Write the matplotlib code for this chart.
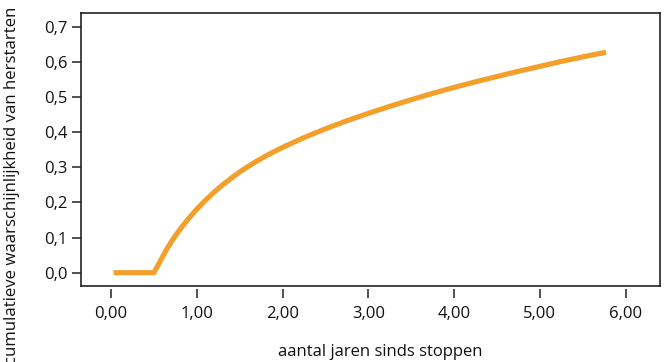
import matplotlib
matplotlib.use("Agg")
import matplotlib.pyplot as plt
from matplotlib.ticker import FuncFormatter

plt.rcParams['font.family'] = ['Open Sans', 'DejaVu Sans']

jaren = [0.03, 0.50, 0.55, 0.60, 0.65, 0.70, 0.75, 0.80, 0.90, 1.00, 1.10, 1.20, 1.30,
         1.40, 1.50, 1.60, 1.70, 1.80, 1.90, 2.00, 2.25, 2.50, 2.75, 3.00, 3.25, 3.50,
         3.75, 4.00, 4.25, 4.50, 4.75, 5.00, 5.25, 5.50, 5.77]
kans = [0.0, 0.0, 0.022, 0.045, 0.067, 0.087, 0.105, 0.122, 0.153, 0.181, 0.206, 0.229, 0.250,
        0.269, 0.287, 0.303, 0.318, 0.332, 0.345, 0.357, 0.385, 0.410, 0.433, 0.454, 0.474, 0.493,
        0.511, 0.528, 0.544, 0.559, 0.574, 0.588, 0.602, 0.615, 0.628]
xticks = [0, 1, 2, 3, 4, 5, 6]
yticks = [0.0, 0.1, 0.2, 0.3, 0.4, 0.5, 0.6, 0.7]

fig = plt.figure(figsize=(6.64, 3.62), dpi=100)
ax = fig.add_axes([81/664, 76/362, 579/664, 273/362])

ax.plot(jaren, kans, color='#F39F2A', lw=3.7, solid_capstyle='butt', solid_joinstyle='round')

ax.set_xlim(-0.35, 6.40)
ax.set_ylim(-0.038, 0.74)
ax.set_xticks(xticks)
ax.set_yticks(yticks)
ax.xaxis.set_major_formatter(FuncFormatter(lambda v, p: f"{v:.2f}".replace('.', ',')))
ax.yaxis.set_major_formatter(FuncFormatter(lambda v, p: f"{v:.1f}".replace('.', ',')))

for s in ax.spines.values():
    s.set_color('#222222')
    s.set_linewidth(1.2)
# x ticks hang a little below the frame
ax.spines['bottom'].set_position(('outward', 2))
ax.spines['bottom'].set_visible(False)
ax.plot([0, 1], [0, 0], transform=ax.transAxes, color='#222222', lw=1.2, clip_on=False)

ax.tick_params(axis='both', direction='out', length=6.5, width=1.1, color='#222222',
               labelsize=12, labelcolor='#111111')
ax.tick_params(axis='x', pad=6)
ax.tick_params(axis='y', pad=3)

fig.text(380/664, 1 - 352/362, 'aantal jaren sinds stoppen', ha='center', va='center',
         fontsize=12, color='#111111')
fig.text(12/664, 1 - 7/362, 'cumulatieve waarschijnlijkheid van herstarten', rotation=90,
         ha='center', va='top', fontsize=12.1, color='#111111')

fig.savefig('out.png', dpi=100)
